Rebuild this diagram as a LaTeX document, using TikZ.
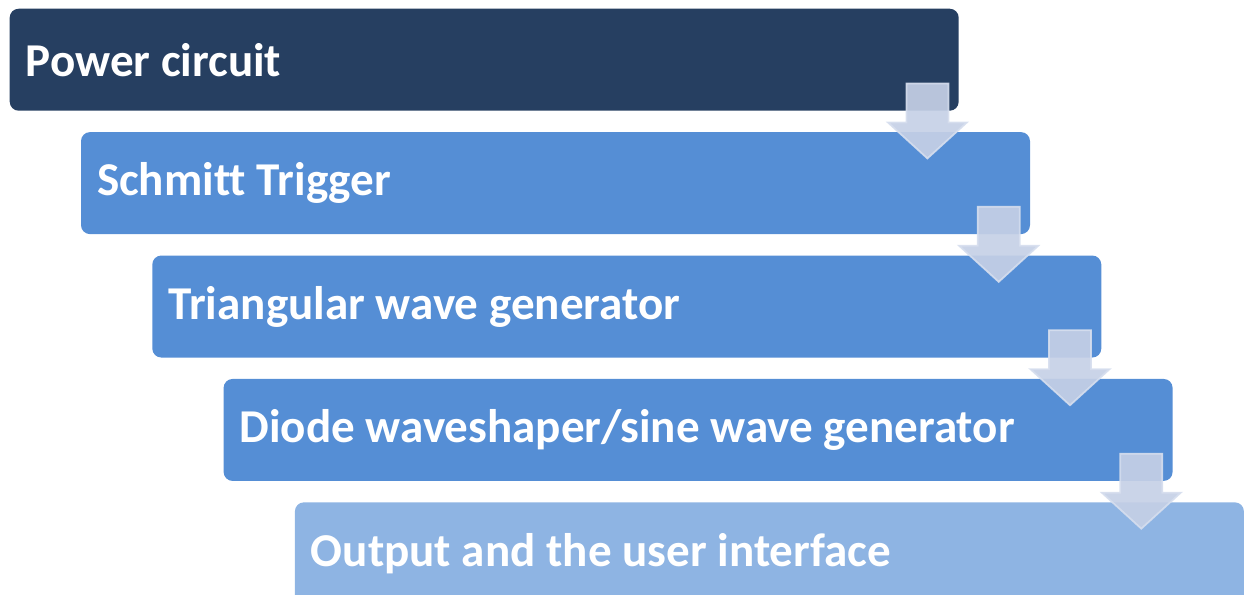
\documentclass[tikz,border=0pt]{standalone}
\usepackage{fontspec}
\setmainfont[Ligatures=NoCommon]{Carlito}
\usepackage{xcolor}
\usetikzlibrary{positioning,calc}

\definecolor{navy}{HTML}{263F61}
\definecolor{stageblue}{HTML}{558ED5}
\definecolor{paleblue}{HTML}{8EB4E3}
\definecolor{flowfill}{HTML}{C5D0E6}
\definecolor{flowline}{HTML}{D6DEEE}

\begin{document}
\begin{tikzpicture}[
    stage/.style={fill=stageblue, rounded corners=0.9mm, text=white, font=\fontsize{13.4}{15}\selectfont\bfseries,
      minimum width=9.49cm, minimum height=1.02cm, inner xsep=1.6mm,
      execute at begin node={\hbox to 9.17cm\bgroup}, execute at end node={\hfil\egroup}},
    next/.style={below=0.2cm of #1.south west, anchor=north west, xshift=0.713cm},
    flow/.style={fill=flowfill, fill opacity=0.92, draw=flowline, draw opacity=0.9, line width=0.5pt, line join=miter}
  ]
    \useasboundingbox (0,0) rectangle (12.46,-5.94);
    \node[stage, fill=navy, anchor=north west] (power) at (0.09,-0.08) {Power circuit};
    \node[stage, next=power] (schmitt) {Schmitt Trigger};
    \node[stage, next=schmitt] (tri) {Triangular wave generator};
    \node[stage, next=tri] (diode) {Diode waveshaper/sine wave generator};
    \node[stage, fill=paleblue, next=diode] (output) {Output and the user interface};

    % arrows between the stages
    \foreach \a/\b in {power/schmitt, schmitt/tri, tri/diode, diode/output}
      \filldraw[flow] ($(\a.south east)+(-0.53,0.28)$) -- ++(0.42,0) -- ++(0,-0.39) -- ++(0.185,0)
        -- ++(-0.395,-0.36) -- ++(-0.395,0.36) -- ++(0.185,0) -- cycle;
  \end{tikzpicture}
\end{document}
